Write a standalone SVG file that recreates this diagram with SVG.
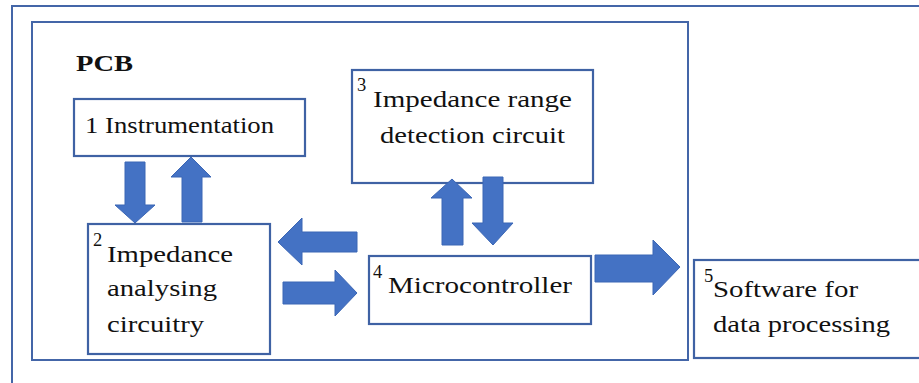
<svg xmlns="http://www.w3.org/2000/svg" width="919" height="383" viewBox="0 0 919 383">
  <defs>
    <style>
      .frame { fill: none; stroke: #4466A8; stroke-width: 2; }
      .box { fill: #ffffff; stroke: #3F62A4; stroke-width: 2.2; }
      text { fill: #111111; }
      .lbl { font-size: 24px; }
      .sup { font-size: 18.5px; }
      .title { font-size: 24px; font-weight: bold; }
      .arrow { fill: #4472C4; stroke: #3B66B5; stroke-width: 1; }
    </style>
  </defs>
  <rect width="919" height="383" fill="#ffffff"/>

  <!-- outer page frame -->
  <rect class="frame" x="12" y="6" width="930" height="400"/>

  <g font-family="Liberation Serif, Times New Roman, serif">
  <!-- PCB enclosure -->
  <g id="pcb">
    <rect class="frame" x="32" y="22" width="656" height="338"/>
    <text class="title" x="76" y="71" textLength="57" lengthAdjust="spacingAndGlyphs">PCB</text>
  </g>

  <g id="instrumentation">
    <rect class="box" x="74" y="99" width="231" height="57"/>
    <text class="lbl" x="85" y="133" textLength="189" lengthAdjust="spacingAndGlyphs">1 Instrumentation</text>
  </g>

  <g id="range-detection">
    <rect class="box" x="352" y="70" width="241" height="113"/>
    <text class="sup" x="357" y="91">3</text>
    <text class="lbl" x="373" y="107" textLength="199" lengthAdjust="spacingAndGlyphs">Impedance range</text>
    <text class="lbl" x="380" y="143" textLength="185" lengthAdjust="spacingAndGlyphs">detection circuit</text>
  </g>

  <g id="analysing">
    <rect class="box" x="88" y="224" width="182" height="130"/>
    <text class="sup" x="93" y="246">2</text>
    <text class="lbl" x="107" y="262" textLength="126" lengthAdjust="spacingAndGlyphs">Impedance</text>
    <text class="lbl" x="107" y="296" textLength="110" lengthAdjust="spacingAndGlyphs">analysing</text>
    <text class="lbl" x="107" y="332" textLength="97" lengthAdjust="spacingAndGlyphs">circuitry</text>
  </g>

  <g id="microcontroller">
    <rect class="box" x="369" y="256" width="222" height="68"/>
    <text class="sup" x="373" y="278">4</text>
    <text class="lbl" x="388" y="293" textLength="184" lengthAdjust="spacingAndGlyphs">Microcontroller</text>
  </g>

  <g id="software">
    <rect class="box" x="694" y="260" width="240" height="98"/>
    <text class="sup" x="704" y="282">5</text>
    <text class="lbl" x="713" y="297" textLength="145" lengthAdjust="spacingAndGlyphs">Software for</text>
    <text class="lbl" x="713" y="332" textLength="177" lengthAdjust="spacingAndGlyphs">data processing</text>
  </g>
  </g>

  <!-- block arrows -->
  <g id="connectors">
    <!-- instrumentation -> analysing (down) -->
    <polygon class="arrow" points="125,162 145,162 145,205 155,205 135,223 115,205 125,205"/>
    <!-- analysing -> instrumentation (up) -->
    <polygon class="arrow" points="182,222 202,222 202,177 211,177 191,157 171,177 182,177"/>
    <!-- microcontroller -> analysing (left) -->
    <polygon class="arrow" points="357,232 357,252 302,252 302,265 278,242 302,218 302,232"/>
    <!-- analysing -> microcontroller (right) -->
    <polygon class="arrow" points="283,282 335,282 335,270 357,293 335,316 335,304 283,304"/>
    <!-- microcontroller -> range detection (up) -->
    <polygon class="arrow" points="442,245 463,245 463,198 472,198 452,179 431,198 442,198"/>
    <!-- range detection -> microcontroller (down) -->
    <polygon class="arrow" points="483,177 503,177 503,223 513,223 493,245 472,223 483,223"/>
    <!-- microcontroller -> software (right) -->
    <polygon class="arrow" points="595,255 653,255 653,240 680,267 653,295 653,282 595,282"/>
  </g>
</svg>
